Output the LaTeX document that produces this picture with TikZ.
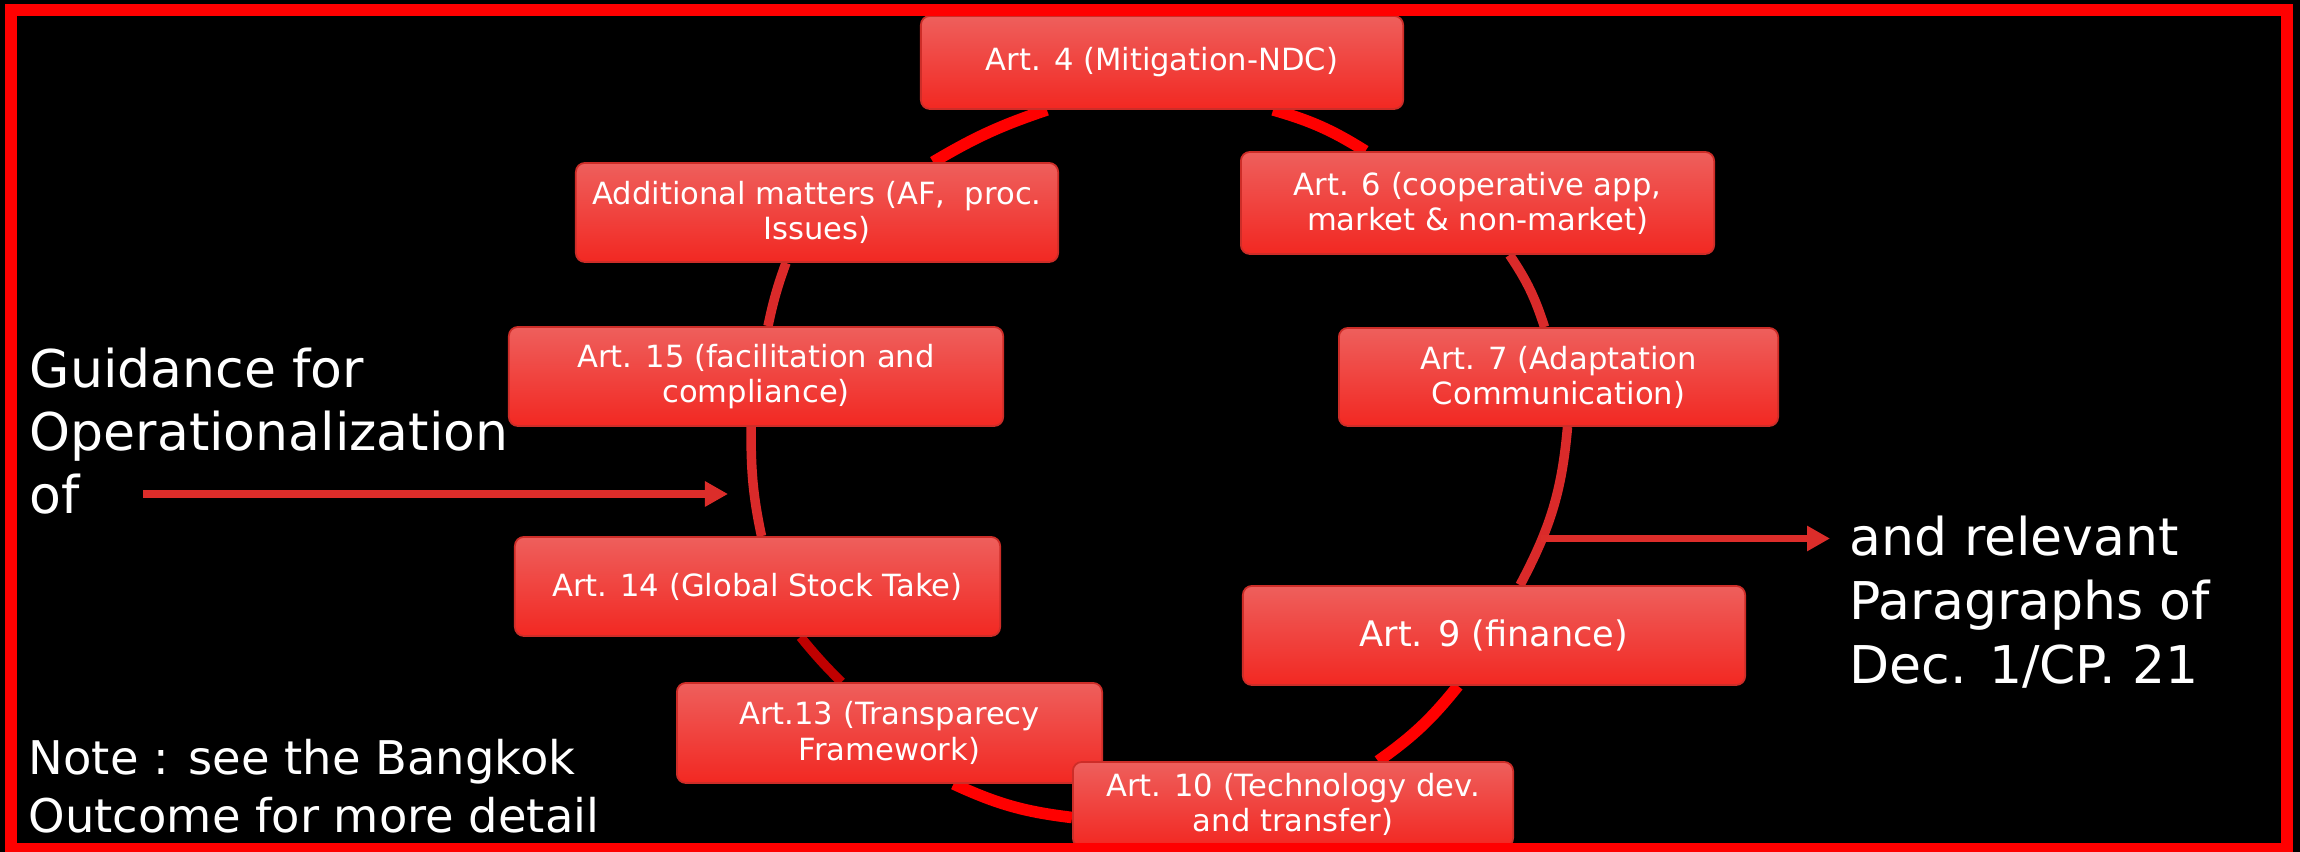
\documentclass[tikz,border=0pt]{standalone}
\usepackage{fontspec}
\setmainfont{DejaVu Sans}
\usepackage{tikz}
\usetikzlibrary{arrows.meta, backgrounds}
\usepackage{xcolor}
\definecolor{boxtop}{RGB}{238, 95, 92}
\definecolor{boxbottom}{RGB}{242, 40, 34}
\definecolor{boxedge}{RGB}{205, 45, 40}
\definecolor{cyclered}{RGB}{255, 0, 0}
\definecolor{cyclemid}{RGB}{218, 42, 42}
\definecolor{cycledark}{RGB}{192, 0, 0}
\definecolor{pointerred}{RGB}{220, 45, 42}

\begin{document}
\begin{tikzpicture}[
    x=0.01cm, y=0.01cm,
    article/.style={rounded corners=0.09cm, top color=boxtop, bottom color=boxbottom,
                    draw=boxedge, line width=0.5pt, text=white, align=center,
                    font=\fontsize{8.7}{10}\selectfont, inner sep=2pt},
    caption/.style={text=white, align=left, anchor=north west, inner sep=0pt},
    link/.style={line width=3.3pt, cyclered},
    linkmid/.style={line width=2.7pt, cyclemid},
    linkdark/.style={line width=2.7pt, cycledark},
    pointer/.style={-{Triangle[length=0.23cm, width=0.24cm]}, line width=2pt, pointerred},
  ]
    \useasboundingbox (0,0) rectangle (2300,852);

    % Cycle of articles
    \node[article, minimum width=4.82cm, minimum height=0.93cm] (art4) at (1162,789.5) {Art. 4 (Mitigation-NDC)};
    \node[article, minimum width=4.82cm, minimum height=0.99cm] (addl) at (817,639.5) {Additional matters (AF,~ proc.\\Issues)};
    \node[article, minimum width=4.73cm, minimum height=1.02cm] (art6) at (1477.5,649) {Art. 6 (cooperative app,\\market \& non-market)};
    \node[article, minimum width=4.39cm, minimum height=0.98cm] (art7) at (1558.5,475) {Art. 7 (Adaptation\\Communication)};
    \node[article, minimum width=4.94cm, minimum height=0.99cm] (art15) at (756,475.5) {Art. 15 (facilitation and\\compliance)};
    \node[article, minimum width=4.85cm, minimum height=0.99cm] (art14) at (757.5,265.5) {Art. 14 (Global Stock Take)};
    \node[article, minimum width=5.02cm, minimum height=0.99cm, font=\fontsize{10}{12}\selectfont] (art9) at (1494,216.5) {Art. 9 (finance)};
    \node[article, minimum width=4.25cm, minimum height=1.00cm] (art13) at (889.5,119) {Art.13 (Transparecy\\Framework)};
    \node[article, minimum width=4.40cm, minimum height=0.85cm] (art10) at (1293,47.5) {Art. 10 (Technology dev.\\and transfer)};

    % Side texts
    \node[caption, font=\fontsize{14.8}{17.9}\selectfont] (guide) at (29,505) {Guidance for\\Operationalization\\of};
    \node[caption, font=\fontsize{14.8}{18.2}\selectfont] (relevant) at (1849,337) {and relevant\\Paragraphs of\\Dec. 1/CP. 21};
    \node[caption, font=\fontsize{13.2}{16.5}\selectfont] (note) at (28,113) {Note : see the Bangkok\\Outcome for more detail};

    % Arrow ends
    \coordinate (guidetail) at (143,358);
    \coordinate (guidetip) at (728,358);
    \coordinate (reltail) at (1541,313.5);
    \coordinate (reltip) at (1830,313.5);

    \begin{scope}[on background layer]
      % Backdrop
      \fill[black] (0,0) rectangle (2300,852);
      % Cycle arcs
      \draw[link] ([xshift=-1.15cm]art4.south) to[bend right=6] ([xshift=1.16cm]addl.north);
      \draw[linkmid] ([xshift=-0.31cm]addl.south) to[bend right=4] ([xshift=0.12cm]art15.north);
      \draw[linkmid] ([xshift=-0.05cm]art15.south) to[out=270, in=102] ([xshift=0.04cm]art14.north);
      \draw[linkdark] ([xshift=0.43cm]art14.south) to[bend right=3] ([xshift=-0.48cm]art13.north);
      \draw[link] ([xshift=0.64cm]art13.south) to[bend right=9] ([yshift=-0.13cm]art10.west);
      \draw[link] ([xshift=0.85cm]art10.north) to[bend right=8] ([xshift=-0.36cm]art9.south);
      \draw[linkmid] ([xshift=0.26cm]art9.north) to[out=62, in=265] ([xshift=0.09cm]art7.south);
      \draw[linkmid] ([xshift=-0.14cm]art7.north) to[bend right=8] ([xshift=0.32cm]art6.south);
      \draw[link] ([xshift=-1.12cm]art6.north) to[bend right=8] ([xshift=1.11cm]art4.south);
    \end{scope}

    % Arrows
    \draw[pointer] (guidetail) -- (guidetip);
    \draw[pointer] (reltail) -- (reltip);

    % Frame
    \draw[line width=3.6pt, cyclered] (11,3) rectangle (2287,842);
  \end{tikzpicture}
\end{document}
